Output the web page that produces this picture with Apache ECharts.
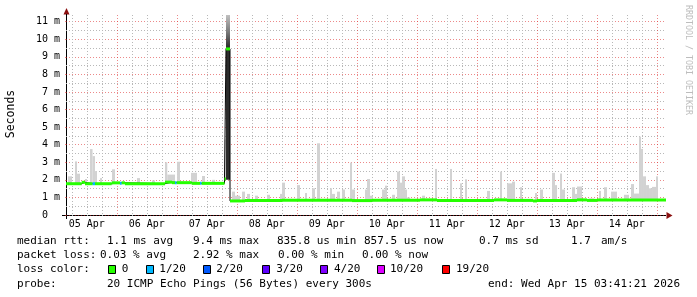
<!DOCTYPE html>
<html><head><meta charset="utf-8">
<script src="https://cdn.jsdelivr.net/npm/echarts@6/dist/echarts.min.js"></script>
<style>html,body{margin:0;padding:0;background:#fff}#c{width:697px;height:297px}</style>
</head><body><div id="c"></div>
<script>
// ---- time axis: hours since 05 Apr 00:00 ----
const T_START = 3.689;   // Apr 05 03:41:21
const T_END = 243.689;   // Apr 15 03:41:21
const dayLabels = ['05 Apr','06 Apr','07 Apr','08 Apr','09 Apr','10 Apr','11 Apr','12 Apr','13 Apr','14 Apr'];
const dayNoon = [12,36,60,84,108,132,156,180,204,228];
const dayMidnight = [24,48,72,96,120,144,168,192,216,240];
const minorHours = [6,12,18,30,36,42,54,60,66,78,84,90,102,108,114,126,132,138,150,156,162,174,180,186,198,204,210,222,228,234];
const yMajor = [0,1,2,3,4,5,6,7,8,9,10,11];
const yMinor = [0.5,1.5,2.5,3.5,4.5,5.5,6.5,7.5,8.5,9.5,10.5];
const Y_MAX = 11.38;

// ---- loss colours ----
const lossLabels = ['0','1/20','2/20','3/20','4/20','10/20','19/20'];
const lossColors = ['#26ff00','#00b8ff','#0059ff','#5e00ff','#7e00ff','#dd00ff','#ff0000'];

// ---- median rtt (ms): segment start time, value, loss index ----
const medStart = [3.69,9.97,11.29,14.37,15.29,21.97,25.29,25.97,27.29,43.29,46.09,47.29,47.97,53.97,57.29,57.97,67.09,67.69,69.29,75.29,90.09,118.09,126.09,145.29,152.09,174.89,180.09,190.49,192.09,208.09,212.09,216.09];
const medValue = [1.78,1.86,1.78,1.78,1.78,1.83,1.81,1.83,1.78,1.87,1.84,1.83,1.84,1.80,1.80,1.80,2.05,9.45,0.80,0.83,0.84,0.82,0.84,0.86,0.83,0.86,0.83,0.80,0.83,0.86,0.83,0.85];
const medLoss  = [0,0,0,1,0,0,1,0,0,0,0,1,0,0,1,0,0,0,0,0,0,0,0,0,0,0,0,0,0,0,0,0];

// ---- smoke (ms): start, end, low, high, shade (0 light, 1 gradient, 2 dark) ----
const smokeStart = [4.5,7.3,8.1,11.3,13.3,14.3,15.3,17.3,22.1,32.1,38.1,43.3,44.2,48.1,53.7,58.1,62.1,67.09,67.69,67.69,
  70.1,71.3,74.1,76.1,79.3,84.1,89.3,90.1,96.1,99.3,102.1,104.1,109.3,110.1,112.1,114.1,117.3,118.1,123.3,124.1,125.3,130.1,131.3,134.1,136.1,137.3,138.1,139.3,140.1,146.1,151.3,157.3,161.3,163.3,172.1,177.3,180.1,182.1,185.3,191.3,193.3,198.1,199.3,201.3,202.1,206.1,207.3,208.1,209.3,213.0,216.9,218.9,221.7,226.9,229.7,230.9,232.9,233.7,234.5,235.7,236.9,238.1,239.7];
const smokeEnd = [6.1,8.1,9.3,12.1,14.3,15.3,16.1,18.1,23.3,33.3,39.3,44.2,47.3,49.3,56.1,59.3,63.3,67.69,69.29,69.29,
  71.3,73.3,75.3,77.3,80.5,85.3,90.1,91.3,97.3,100.1,103.3,105.3,110.1,111.3,113.3,115.3,118.1,119.3,124.1,125.3,126.5,131.3,132.1,135.3,137.3,138.1,139.3,140.1,141.3,147.3,152.1,158.1,162.1,164.1,173.3,178.1,182.1,183.3,186.1,192.1,194.5,199.3,200.1,202.1,203.3,207.3,208.1,209.3,210.1,215.0,217.7,220.1,224.1,228.9,230.9,232.9,233.7,234.5,235.7,236.9,238.1,239.7,240.5];
const smokeLo = [1.8,1.8,1.8,1.8,1.8,1.8,1.8,1.8,1.8,1.8,1.8,1.8,1.8,1.8,1.8,1.8,1.8,2.0,9.45,2.0,
  0.84,0.84,0.84,0.84,0.84,0.84,0.84,0.84,0.84,0.84,0.84,0.84,0.84,0.84,0.84,0.84,0.84,0.84,0.84,0.84,0.84,0.84,0.84,0.84,0.84,0.84,0.84,0.84,0.84,0.84,0.84,0.84,0.84,0.84,0.84,0.84,0.84,0.84,0.84,0.84,0.84,0.84,0.84,0.84,0.84,0.84,0.84,0.84,0.84,0.84,0.84,0.84,0.84,0.84,0.84,0.84,0.84,0.84,0.84,0.84,0.84,0.84,0.84];
const smokeHi = [2.2,3.05,2.35,2.05,3.75,3.35,2.5,2.1,2.6,2.1,1.97,3.0,2.3,3.03,2.4,2.22,2.0,4.3,11.38,9.45,
  1.33,1.1,1.33,1.2,1.1,1.15,1.2,1.84,1.7,1.25,1.52,4.08,1.52,1.2,1.33,1.45,2.98,1.45,1.45,2.05,1.1,1.45,1.67,1.15,2.47,1.84,2.2,1.45,1.0,1.1,2.62,2.62,1.8,2.03,1.37,2.47,1.8,1.9,1.58,1.25,1.45,2.4,1.7,2.36,1.45,1.58,1.2,1.62,1.62,0.95,1.37,1.58,1.33,1.15,1.76,1.22,4.46,3.76,2.2,1.7,1.52,1.6,2.2];
const smokeShade = [0,0,0,0,0,0,0,0,0,0,0,0,0,0,0,0,0,0,1,2,
  0,0,0,0,0,0,0,0,0,0,0,0,0,0,0,0,0,0,0,0,0,0,0,0,0,0,0,0,0,0,0,0,0,0,0,0,0,0,0,0,0,0,0,0,0,0,0,0,0,0,0,0,0,0,0,0,0,0,0,0,0,0,0];

// ---- legend texts ----
const rttTexts = ['median rtt:','1.1 ms avg','9.4 ms max','835.8 us min','857.5 us now','0.7 ms sd','1.7','am/s'];
const lossTexts = ['packet loss:','0.03 % avg','2.92 % max','0.00 % min','0.00 % now'];
const lossColorTitle = 'loss color:';
const probeTexts = ['probe:','20 ICMP Echo Pings (56 Bytes) every 300s','end: Wed Apr 15 03:41:21 2026'];
const yTitle = 'Seconds';
const watermark = 'RRDTOOL / TOBI OETIKER';

// ================= layout / styles =================
const MONO = '"DejaVu Sans Mono", monospace';
const gridL = 66, gridT = 15, gridW = 600, gridH = 200;
const rttX = [17,107,193,277,364,479,571,601];
const lossX = [17,100,193,278,362];
const boxX = [108,145.7,202.7,262.3,320,376.7,441.7];
const boxLabelX = [121.7,159.3,216.3,276.3,334,390,456];
const probeX = [17,107,488];
const lineY = [241,255.5,269.5,283.7];

const smokeData = smokeStart.map((t,i)=>[t, smokeEnd[i], smokeLo[i], smokeHi[i], smokeShade[i]]);
const medData = medStart.map((t,i)=>[t, i < medStart.length-1 ? medStart[i+1] : T_END, medValue[i], medLoss[i]]);
const stepData = medStart.map((t,i)=>[t, medValue[i]]).concat([[T_END, medValue[medValue.length-1]]]);

const chart = echarts.init(document.getElementById('c'), null, {renderer:'canvas'});

function txt(text, x, y, size, extra) {
  return Object.assign({
    type:'text', x:x, y:y, silent:true,
    style:{text:text, font: size + 'px ' + MONO, fill:'#000', textAlign:'left', textVerticalAlign:'middle', align:'left', verticalAlign:'middle'}
  }, extra || {});
}
const graphics = [];
rttTexts.forEach((t,i)=>graphics.push(txt(t, rttX[i], lineY[0], 11)));
lossTexts.forEach((t,i)=>graphics.push(txt(t, lossX[i], lineY[1], 11)));
graphics.push(txt(lossColorTitle, 17, lineY[2], 11));
lossLabels.forEach((t,i)=>{
  graphics.push({type:'rect', silent:true, shape:{x:Math.round(boxX[i])+0.5, y:265.5, width:7, height:8}, style:{fill:lossColors[i], stroke:'#000', lineWidth:1}});
  graphics.push(txt(t, boxLabelX[i], lineY[2], 11));
});
probeTexts.forEach((t,i)=>graphics.push(txt(t, probeX[i], lineY[3], 11)));
graphics.push({type:'text', x:11, y:114, rotation:Math.PI/2, silent:true,
  style:{text:yTitle, font:'11.5px ' + MONO, fill:'#000', textAlign:'center', textVerticalAlign:'middle', align:'center', verticalAlign:'middle'}});
graphics.push({type:'text', x:688, y:60, rotation:-Math.PI/2, silent:true,
  style:{text:watermark, font:'8.3px ' + MONO, fill:'#bdbdbd', textAlign:'center', textVerticalAlign:'middle', align:'center', verticalAlign:'middle'}});
// axis arrows and axis lines
graphics.push({type:'polygon', silent:true, shape:{points:[[666.5,212],[672.5,215.5],[666.5,219]]}, style:{fill:'#8b1010'}});
graphics.push({type:'polygon', silent:true, shape:{points:[[63.5,14.5],[66.5,8],[69.5,14.5]]}, style:{fill:'#8b1010'}});
graphics.push({type:'line', silent:true, shape:{x1:62, y1:215.5, x2:666, y2:215.5}, style:{stroke:'#000', lineWidth:1}});
graphics.push({type:'line', silent:true, shape:{x1:66.5, y1:219, x2:66.5, y2:14}, style:{stroke:'#000', lineWidth:1}});

const minorStyle = {color:'#b8b8b8', type:[1,2], width:1};
const majorStyle = {color:'rgba(220,40,40,0.55)', type:[1,2], width:1};

const baseX = {type:'value', min:T_START, max:T_END, position:'bottom', gridIndex:0};
const baseY = {type:'value', min:0, max:Y_MAX, position:'left', gridIndex:0};

const option = {
  animation:false,
  backgroundColor:'#fff',
  grid:{left:gridL, top:gridT, width:gridW, height:gridH, containLabel:false},
  xAxis:[
    Object.assign({}, baseX, {
      axisLine:{show:false}, axisTick:{show:false}, splitLine:{show:false},
      axisLabel:{customValues:dayNoon, formatter:v=>dayLabels[dayNoon.indexOf(v)], fontFamily:MONO, fontSize:10, color:'#000', margin:4}
    }),
    Object.assign({}, baseX, {
      axisLine:{show:false}, axisLabel:{show:false},
      axisTick:{show:true, customValues:minorHours, length:3, lineStyle:minorStyle},
      splitLine:{show:true, lineStyle:minorStyle}
    }),
    Object.assign({}, baseX, {
      axisLine:{show:false}, axisLabel:{show:false},
      axisTick:{show:true, customValues:dayMidnight, length:3, lineStyle:majorStyle},
      splitLine:{show:true, lineStyle:majorStyle}
    })
  ],
  yAxis:[
    Object.assign({}, baseY, {
      axisLine:{show:false},
      axisTick:{show:true, customValues:yMajor, length:3, lineStyle:majorStyle},
      axisLabel:{customValues:yMajor, formatter:v=> v===0 ? '0  ' : v + ' m', fontFamily:MONO, fontSize:10, color:'#000', margin:6},
      splitLine:{show:true, lineStyle:majorStyle}
    }),
    Object.assign({}, baseY, {
      axisLine:{show:false}, axisLabel:{show:false},
      axisTick:{show:false, customValues:yMinor},
      splitLine:{show:true, lineStyle:minorStyle}
    })
  ],
  series:[
    {
      name:'smoke', type:'custom', xAxisIndex:0, yAxisIndex:0, clip:true, z:2,
      encode:{x:[0,1], y:[2,3]},
      data:smokeData,
      renderItem:(params, api)=>{
        const a = api.coord([api.value(0), api.value(3)]);
        const b = api.coord([api.value(1), api.value(2)]);
        const shade = api.value(4);
        let fill = '#d2d2d2';
        if (shade === 1) fill = new echarts.graphic.LinearGradient(0,0,0,1,[{offset:0,color:'#c0c0c0'},{offset:0.5,color:'#7a7a7a'},{offset:1,color:'#262626'}]);
        if (shade === 2) fill = '#2c2c2c';
        return {type:'rect', shape:{x:a[0], y:a[1], width:b[0]-a[0], height:b[1]-a[1]}, style:{fill:fill}};
      }
    },
    {
      name:'rtt', type:'line', step:'end', xAxisIndex:0, yAxisIndex:0, symbol:'none', z:3,
      lineStyle:{color:'#000', width:1}, data:stepData
    },
    {
      name:'median', type:'custom', xAxisIndex:0, yAxisIndex:0, clip:true, z:4,
      encode:{x:[0,1], y:2},
      data:medData,
      renderItem:(params, api)=>{
        const v = api.value(2);
        const a = api.coord([api.value(0), v]);
        const b = api.coord([api.value(1), v]);
        return {type:'line', shape:{x1:a[0], y1:a[1], x2:b[0], y2:b[1]}, style:{stroke:lossColors[api.value(3)], lineWidth:3}};
      }
    }
  ],
  graphic:graphics
};
chart.setOption(option);
</script>
</body></html>
